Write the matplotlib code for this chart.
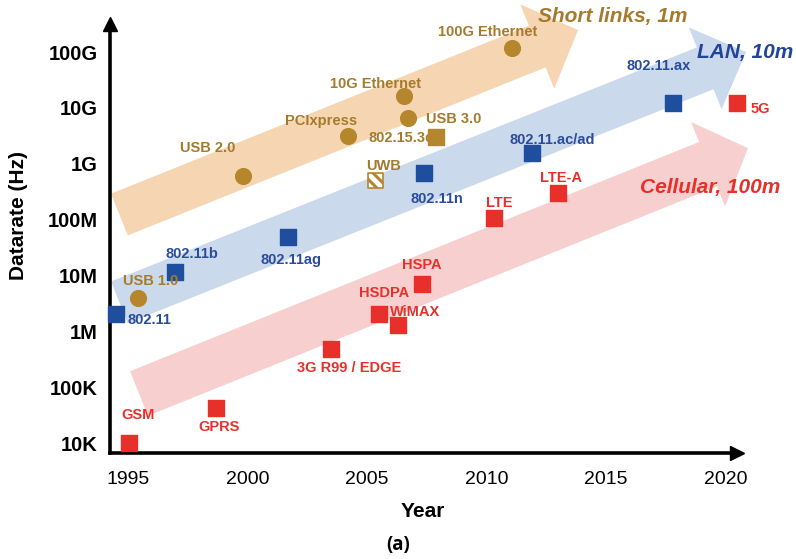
import matplotlib
matplotlib.use("Agg")
import matplotlib.pyplot as plt

plt.rcParams["font.family"] = ["Liberation Sans", "DejaVu Sans"]
plt.rcParams["hatch.color"] = "#B5862B"
plt.rcParams["hatch.linewidth"] = 2.2

# --- data -----------------------------------------------------------------
short_names = ["USB 1.0", "USB 2.0", "PCIxpress", "10G Ethernet", "802.15.3c", "100G Ethernet"]
short_years = [1995.4, 1999.8, 2004.2, 2006.55, 2006.7, 2011.05]
short_rates = [4.0e6, 6.0e8, 3.2e9, 1.6e10, 6.5e9, 1.2e11]

usb3_year, usb3_rate = 2007.9, 3.0e9
uwb_year, uwb_rate = 2005.35, 5.0e8

lan_names = ["802.11", "802.11b", "802.11ag", "802.11n", "802.11.ac/ad", "802.11.ax"]
lan_years = [1994.5, 1996.95, 2001.7, 2007.4, 2011.9, 2017.8]
lan_rates = [2.0e6, 1.15e7, 4.9e7, 6.8e8, 1.55e9, 1.2e10]

cell_names = ["GSM", "GPRS", "3G R99 / EDGE", "HSDPA", "WiMAX", "HSPA", "LTE", "LTE-A", "5G"]
cell_years = [1995.05, 1998.7, 2003.5, 2005.5, 2006.3, 2007.3, 2010.3, 2013.0, 2020.5]
cell_rates = [1.0e4, 4.2e4, 4.8e5, 2.0e6, 1.3e6, 7.0e6, 1.07e8, 3.0e8, 1.2e10]

# trend bands: (tail year, tail rate) -> (tip year, tip rate)
band_titles = ["Short links, 1m", "LAN, 10m", "Cellular, 100m"]
band_tail_years = [1994.64, 1994.64, 1995.46]
band_tail_rates = [1.23e8, 3.3e6, 7.7e4]
band_tip_years = [2013.83, 2020.86, 2020.94]
band_tip_rates = [2.47e11, 1.0e11, 1.9e9]

year_ticks = [1995, 2000, 2005, 2010, 2015, 2020]
rate_ticks = [1e4, 1e5, 1e6, 1e7, 1e8, 1e9, 1e10, 1e11]
rate_labels = ["10K", "100K", "1M", "10M", "100M", "1G", "10G", "100G"]

# --- styling --------------------------------------------------------------
GOLD, GOLD_TXT = "#B5862B", "#A67A2C"
BLUE, BLUE_TXT = "#1F4E9E", "#2A4C9E"
RED, RED_TXT = "#E8302A", "#E8302A"
band_colors = ["#F6D6B2", "#CBD9EC", "#F8CFCF"]
band_title_colors = [GOLD_TXT, "#22449A", RED_TXT]
# label offsets from marker, in pixels (right, up)
short_off = [(13, 17), (-35, 28), (-27, 15), (-29, 12), (-7, -20), (-24, 16)]
lan_off = [(33, -6), (17, 18), (3, -23), (13, -26), (20, 13), (-14, 37)]
cell_off = [(9, 28), (3, -19), (18, -19), (5, 21), (17, 13), (0, 19), (6, 15), (3, 15), (23, -6)]
band_dims = [(45, 91, 44), (45, 88, 44), (48, 91, 43)]  # body, head width, head length (px)
title_off = [(-40, 14, "left"), (-49, 0, "left"), (-108, -39, "left")]

PT = 0.72  # px -> pt at 100 dpi

fig = plt.figure(figsize=(7.96, 5.59), dpi=100)
W, H = 796, 559
ax = fig.add_axes([110 / W, (H - 453) / H, (736.5 - 110) / W, (453 - 23.5) / H])
ax.set_yscale("log")
ax.set_xlim(1994.247, 2020.46)
ax.set_ylim(6622, 3.24e11)

# wide trend arrows behind the points
for i in range(3):
    body, hw, hl = band_dims[i]
    ax.annotate("", xy=(band_tip_years[i], band_tip_rates[i]),
                xytext=(band_tail_years[i], band_tail_rates[i]),
                arrowprops=dict(arrowstyle=f"simple,head_length={hl * PT},"
                                           f"head_width={hw * PT},tail_width={body * PT}",
                                mutation_scale=1, shrinkA=0, shrinkB=0,
                                fc=band_colors[i], ec="none"),
                zorder=0.5, annotation_clip=False)
    dx, dy, ha = title_off[i]
    ax.annotate(band_titles[i], xy=(band_tip_years[i], band_tip_rates[i]),
                xytext=(dx * PT, dy * PT), textcoords="offset points",
                ha=ha, va="center", fontsize=15, fontweight="bold", style="italic",
                color=band_title_colors[i], zorder=6, annotation_clip=False)

# points
ax.scatter(short_years, short_rates, s=128, marker="o", color=GOLD, zorder=3, clip_on=False)
ax.scatter([usb3_year], [usb3_rate], s=117, marker="s", color=GOLD, zorder=5, clip_on=False)
ax.scatter([uwb_year], [uwb_rate], s=110, marker="s", facecolor="white", edgecolor=GOLD,
           hatch="\\\\\\", linewidth=1.2, zorder=3, clip_on=False)
ax.scatter(lan_years, lan_rates, s=117, marker="s", color=BLUE, zorder=3, clip_on=False)
ax.scatter(cell_years, cell_rates, s=117, marker="s", color=RED, zorder=3, clip_on=False)


def label_points(names, xs, ys, offs, color):
    for n, x, y, (dx, dy) in zip(names, xs, ys, offs):
        ax.annotate(n, (x, y), xytext=(dx * PT, dy * PT), textcoords="offset points",
                    ha="center", va="center", fontsize=10.5, fontweight="bold",
                    color=color, zorder=4, annotation_clip=False)


label_points(short_names, short_years, short_rates, short_off, GOLD_TXT)
label_points(["USB 3.0", "UWB"], [usb3_year, uwb_year], [usb3_rate, uwb_rate],
             [(17, 18), (8, 15)], GOLD_TXT)
label_points(lan_names, lan_years, lan_rates, lan_off, BLUE_TXT)
label_points(cell_names, cell_years, cell_rates, cell_off, RED_TXT)

# axes drawn as arrows
for side in ["top", "right"]:
    ax.spines[side].set_visible(False)
for side in ["left", "bottom"]:
    ax.spines[side].set_linewidth(2.6)
    ax.spines[side].set_zorder(2)
ax.plot(0, 1, "^k", ms=10, transform=ax.transAxes, clip_on=False)
ax.plot(1, 0, ">k", ms=10, transform=ax.transAxes, clip_on=False)

ax.set_xticks(year_ticks)
ax.set_xticklabels([str(y) for y in year_ticks], fontsize=14)
ax.set_yticks(rate_ticks)
ax.set_yticklabels(rate_labels, fontsize=14.5, fontweight="bold")
ax.tick_params(which="both", length=0)
ax.tick_params(axis="x", pad=13)
ax.tick_params(axis="y", pad=9)
ax.minorticks_off()

ax.set_ylabel("Datarate (Hz)", fontsize=15, fontweight="bold")
ax.yaxis.set_label_coords(-0.131, 0.552)
ax.set_xlabel("Year", fontsize=15, fontweight="bold", labelpad=10)
fig.text(398 / W, 1 - 545 / H, "(a)", ha="center", va="center", fontsize=13.5,
         fontweight="bold", family=["Open Sans", "DejaVu Sans"])

fig.savefig("out.png", dpi=100)
